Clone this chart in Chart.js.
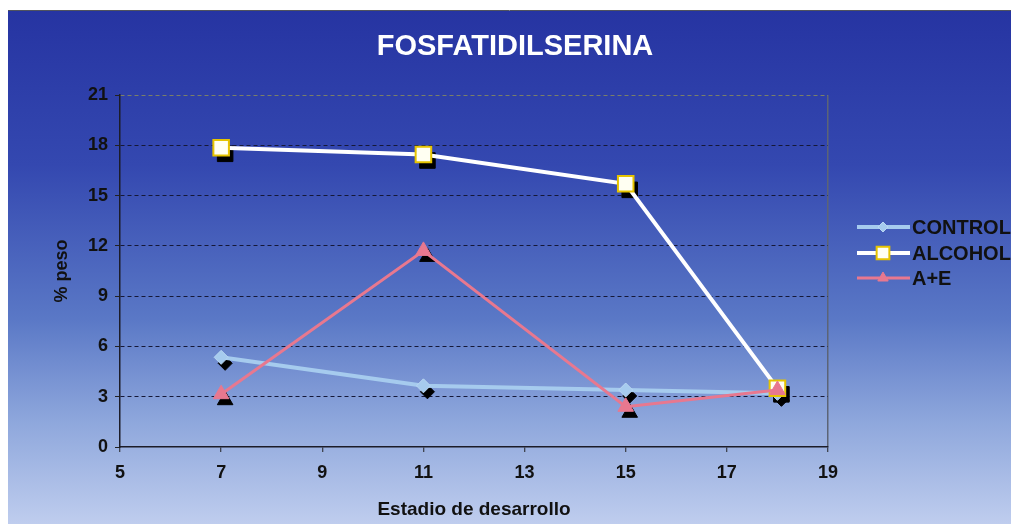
<!DOCTYPE html>
<html>
<head>
<meta charset="utf-8">
<title>Fosfatidilserina</title>
<script src="https://cdn.jsdelivr.net/npm/chart.js@4.4.0/dist/chart.umd.min.js"></script>
<style>
  html, body { margin: 0; padding: 0; background: #fff; }
  #wrap { width: 1011px; height: 524px; }
</style>
</head>
<body>
<div id="wrap"><canvas id="grafico" width="1011" height="524"></canvas></div>
<script>
// Datos: % peso por estadio de desarrollo
const estadios = [7, 11, 15, 18];
const control = [5.35, 3.65, 3.4, 3.2];
const alcohol = [17.85, 17.45, 15.7, 3.5];
const aMasE = [3.15, 11.7, 2.4, 3.4];

const ejeX = { min: 5, max: 19, paso: 2 };
const ejeY = { min: 0, max: 21, paso: 3 };

const FUENTE = "'Liberation Sans', Arial, sans-serif";
Chart.defaults.font.family = FUENTE;

const puntos = vals => estadios.map((x, i) => ({ x: x, y: vals[i] }));

// sombra negra desplazada bajo cada marcador
function sombra(vals, estilo, radio) {
  return {
    label: '',
    sombra: true,
    data: puntos(vals),
    showLine: false,
    pointStyle: estilo,
    pointRadius: radio,
    pointHoverRadius: radio,
    pointBackgroundColor: '#000',
    pointBorderColor: '#000',
    pointBorderWidth: 1,
    order: 10
  };
}

const series = [
  {
    label: 'CONTROL',
    data: puntos(control),
    showLine: true,
    borderColor: '#a6cbee',
    borderWidth: 4,
    pointStyle: 'rectRot',
    pointRadius: 7,
    pointBackgroundColor: '#a6cbee',
    pointBorderColor: '#b8d6f2',
    pointBorderWidth: 1,
    order: 3,
    leyenda: { radio: 5 }
  },
  {
    label: 'ALCOHOL',
    data: puntos(alcohol),
    showLine: true,
    borderColor: '#ffffff',
    borderWidth: 4,
    pointStyle: 'rect',
    pointRadius: 11,
    pointBackgroundColor: '#fffff2',
    pointBorderColor: '#e6c400',
    pointBorderWidth: 2,
    order: 2,
    leyenda: { radio: 9 }
  },
  {
    label: 'A+E',
    data: puntos(aMasE),
    showLine: true,
    borderColor: '#e8788f',
    borderWidth: 3,
    pointStyle: 'triangle',
    pointRadius: 9,
    pointBackgroundColor: '#e8788f',
    pointBorderColor: '#e8788f',
    pointBorderWidth: 1,
    order: 1,
    leyenda: { radio: 6 }
  }
];

const sombras = [
  sombra(control, 'rectRot', 7),
  sombra(alcohol, 'rect', 11),
  sombra(aMasE, 'triangle', 9)
];

const fondo = {
  id: 'fondo',
  beforeDraw(chart) {
    const ctx = chart.ctx;
    const w = chart.width, h = chart.height;
    ctx.save();
    ctx.fillStyle = '#ffffff';
    ctx.fillRect(0, 0, w, h);
    const g = ctx.createLinearGradient(0, 11, 0, h);
    g.addColorStop(0, '#2634a2');
    g.addColorStop(0.3, '#3448b0');
    g.addColorStop(0.6, '#5a78c6');
    g.addColorStop(0.8, '#8ea7dc');
    g.addColorStop(1, '#bfcdee');
    ctx.fillStyle = g;
    ctx.fillRect(8, 11, w - 8, h - 11);
    ctx.strokeStyle = '#50535e';
    ctx.lineWidth = 1;
    ctx.beginPath();
    ctx.moveTo(8, 10.5);
    ctx.lineTo(w, 10.5);
    ctx.stroke();
    ctx.restore();
  }
};

const desplazarSombras = {
  id: 'desplazarSombras',
  beforeDatasetDraw(chart, args) {
    if (chart.data.datasets[args.index].sombra) {
      chart.ctx.save();
      chart.ctx.translate(4, 6);
    }
  },
  afterDatasetDraw(chart, args) {
    if (chart.data.datasets[args.index].sombra) chart.ctx.restore();
  }
};

const tituloYLeyenda = {
  id: 'tituloYLeyenda',
  afterDraw(chart) {
    const ctx = chart.ctx;
    ctx.save();
    ctx.fillStyle = '#ffffff';
    ctx.font = "bold 29px " + FUENTE;
    ctx.textAlign = 'center';
    ctx.textBaseline = 'middle';
    ctx.fillText('FOSFATIDILSERINA', 515, 47);

    // leyenda a la derecha del área de trazado
    const filas = [227, 253, 278];
    series.forEach((ds, i) => {
      const y = filas[i];
      ctx.strokeStyle = ds.borderColor;
      ctx.lineWidth = ds.borderWidth;
      ctx.beginPath();
      ctx.moveTo(857, y);
      ctx.lineTo(910, y);
      ctx.stroke();
      ctx.fillStyle = ds.pointBackgroundColor;
      ctx.strokeStyle = ds.pointBorderColor;
      ctx.lineWidth = ds.pointBorderWidth;
      Chart.helpers.drawPoint(ctx, {
        pointStyle: ds.pointStyle, radius: ds.leyenda.radio,
        rotation: 0, borderWidth: ds.pointBorderWidth
      }, 883, y);
      ctx.fillStyle = '#111111';
      ctx.font = "bold 20px " + FUENTE;
      ctx.textAlign = 'left';
      ctx.fillText(ds.label, 912, y + 1);
    });
    ctx.restore();
  }
};

new Chart(document.getElementById('grafico'), {
  type: 'scatter',
  data: { datasets: [...series, ...sombras] },
  options: {
    responsive: false,
    animation: false,
    layout: { padding: { left: 45, right: 183, top: 95, bottom: 0 } },
    plugins: {
      legend: { display: false },
      title: { display: false },
      tooltip: { enabled: false }
    },
    scales: {
      x: {
        type: 'linear',
        min: ejeX.min,
        max: ejeX.max,
        afterFit: s => { s.height = 77; },
        ticks: {
          stepSize: ejeX.paso,
          color: '#111111',
          padding: 10,
          font: { size: 18, weight: 'bold' }
        },
        grid: {
          color: c => c.tick && c.tick.value === ejeX.max ? '#5c6476' : 'rgba(0,0,0,0)',
          lineWidth: 1.5,
          tickColor: '#222222',
          tickLength: 5,
          tickWidth: 1
        },
        border: { color: '#1c1c28', width: 1.5 },
        title: {
          display: true,
          text: 'Estadio de desarrollo',
          color: '#111111',
          font: { size: 19, weight: 'bold' },
          padding: { top: 0, bottom: 3 }
        }
      },
      y: {
        min: ejeY.min,
        max: ejeY.max,
        afterFit: s => { s.width = 75; },
        ticks: {
          stepSize: ejeY.paso,
          color: '#111111',
          padding: 7,
          font: { size: 18, weight: 'bold' }
        },
        grid: {
          color: c => {
            if (!c.tick) return 'rgba(0,0,0,0)';
            if (c.tick.value === ejeY.max) return '#7a7f68';
            if (c.tick.value === ejeY.min) return 'rgba(0,0,0,0)';
            return '#151838';
          },
          lineWidth: 1,
          tickColor: '#222222',
          tickLength: 5
        },
        border: { color: '#1c1c28', width: 1.5, dash: [4, 3] },
        title: {
          display: true,
          text: '% peso',
          color: '#111111',
          font: { size: 18, weight: 'bold' },
          padding: { top: 6, bottom: 0 }
        }
      }
    }
  },
  plugins: [fondo, desplazarSombras, tituloYLeyenda]
});
</script>
</body>
</html>
